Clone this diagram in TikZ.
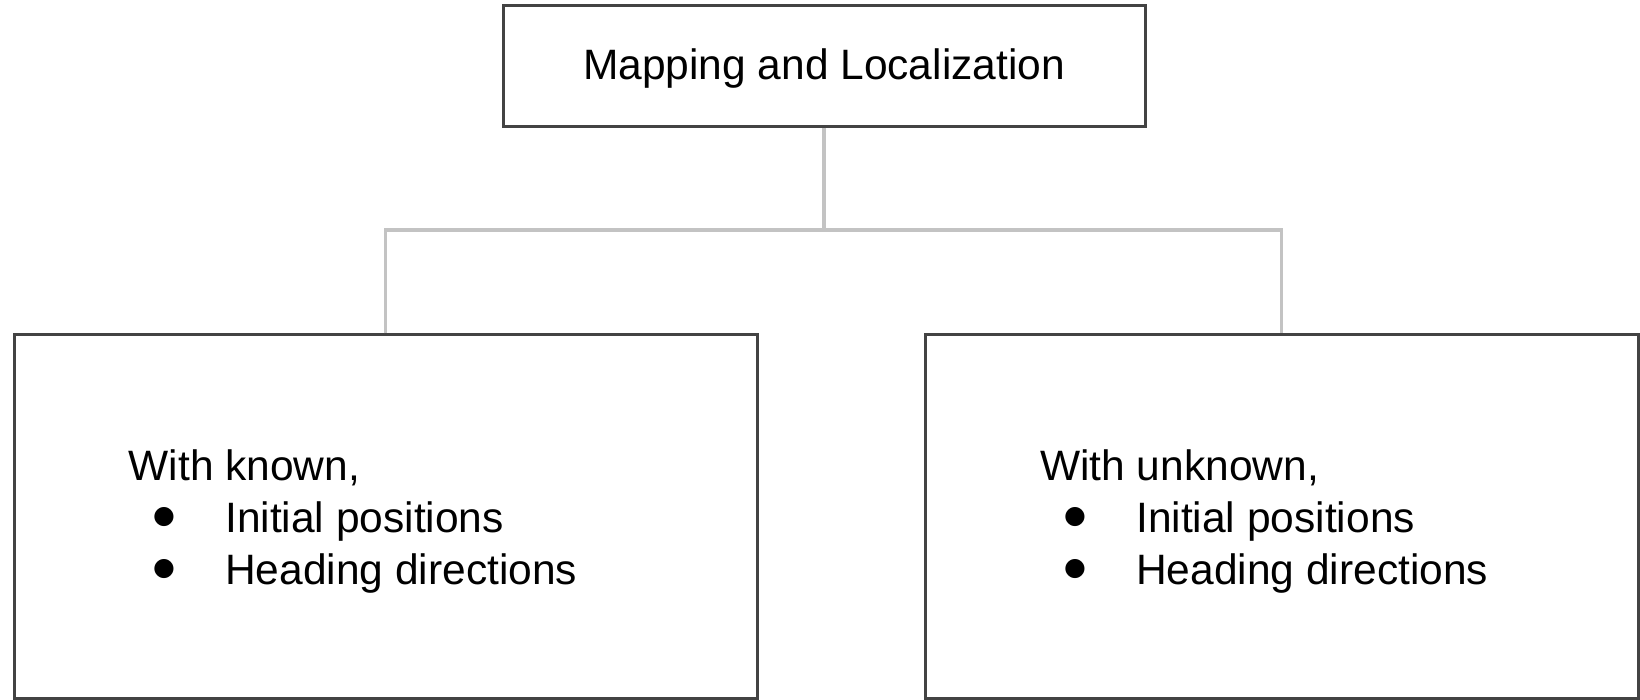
\documentclass[tikz,border=0pt]{standalone}
\usepackage{fontspec}
\setmainfont{Liberation Sans}
\newfontfamily\symfont{DejaVu Sans}
\definecolor{boxline}{HTML}{434343}
\definecolor{connline}{HTML}{C3C3C3}
\tikzset{
  box/.style={draw=boxline, line width=3pt, fill=white, inner sep=0pt, rectangle},
  conn/.style={draw=connline, line width=3.2pt},
  txt/.style={inner sep=0pt, anchor=base west, font=\fontsize{42.5}{50}\selectfont, text=black},
  bul/.style={inner sep=0pt, anchor=center, font=\symfont\fontsize{25}{28}\selectfont, text=black},
}
\begin{document}
\begin{tikzpicture}[x=1pt,y=-1pt]
\useasboundingbox (0,0) rectangle (1640,700);
% boxes
\node[box, minimum width=642pt, minimum height=121pt] (top) at (824,66) {};
\node[box, minimum width=743pt, minimum height=363.5pt] (left) at (385.5,516.75) {};
\node[box, minimum width=713pt, minimum height=363.5pt] (right) at (1281.5,516.75) {};
\coordinate (j) at (824,230);
% connectors
\draw[conn] (top.south) -- (j);
\draw[conn] (left.north) |- (j) -| (right.north);
% top text
\node[inner sep=0pt, font=\fontsize{42.5}{50}\selectfont] (ttitle) at (824,69) {Mapping and Localization};
% left text
\node[txt] (lhead) at (128.5,480.5) {With known,};
\node[bul] (lb1) at (164,517) {●};
\node[txt] (l1) at (225,532) {Initial positions};
\node[bul] (lb2) at (164,569) {●};
\node[txt] (l2) at (225,584) {Heading directions};
% right text
\node[txt] (rhead) at (1040,480.5) {With unknown,};
\node[bul] (rb1) at (1075,517) {●};
\node[txt] (r1) at (1136,532) {Initial positions};
\node[bul] (rb2) at (1075,569) {●};
\node[txt] (r2) at (1136,584) {Heading directions};
\end{tikzpicture}
\end{document}
